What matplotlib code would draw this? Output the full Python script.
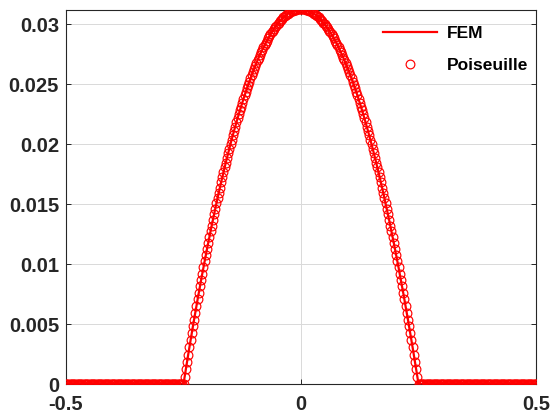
import numpy as np
import matplotlib
matplotlib.use('Agg')
import matplotlib.pyplot as plt

# ---- data (velocity profile, channel -0.5..0.5) ----
# centreline-to-wall values of the profile, in units of 1e-6, step dx = 0.0025
u_half_1e6 = [
    31250, 31247, 31238, 31222, 31200, 31172, 31138, 31097, 31050, 30997,
    30938, 30872, 30800, 30722, 30638, 30547, 30450, 30347, 30238, 30122,
    30000, 29872, 29738, 29597, 29450, 29297, 29138, 28972, 28800, 28622,
    28438, 28247, 28050, 27847, 27638, 27422, 27200, 26972, 26738, 26497,
    26250, 25997, 25738, 25472, 25200, 24922, 24638, 24347, 24050, 23747,
    23438, 23122, 22800, 22472, 22138, 21797, 21450, 21097, 20738, 20372,
    20000, 19622, 19238, 18847, 18450, 18047, 17638, 17222, 16800, 16372,
    15938, 15497, 15050, 14597, 14138, 13672, 13200, 12722, 12238, 11747,
    11250, 10747, 10238, 9722, 9200, 8672, 8138, 7597, 7050, 6497,
    5938, 5372, 4800, 4222, 3638, 3047, 2450, 1847, 1238, 622,
    0,
]
n_wall_side = 100          # points in each zero (outside) segment
wall_value = 0.0

u_half = np.array(u_half_1e6) * 1e-6
u_core = np.concatenate([u_half[::-1], u_half[1:]])
u_out = np.full(n_wall_side, wall_value)

y_poiseuille = np.concatenate([u_out, u_core, u_out])
y_fem = y_poiseuille.copy()
x = np.linspace(-0.5, 0.5, y_poiseuille.size)

xticks = [-0.5, 0, 0.5]
xtick_labels = ['-0.5', '0', '0.5']
yticks = [0, 0.005, 0.01, 0.015, 0.02, 0.025, 0.03]
ytick_labels = ['0', '0.005', '0.01', '0.015', '0.02', '0.025', '0.03']

plt.rcParams['font.family'] = ['Liberation Sans', 'DejaVu Sans']
plt.rcParams['font.weight'] = 'bold'

fig = plt.figure(figsize=(5.54, 4.20), dpi=100)
ax = fig.add_axes([66/554, 1 - 384/420, 470/554, 374/420])

ax.plot(x, y_fem, '-', color='red', lw=1.6, label='FEM', zorder=2)
ax.plot(x, y_poiseuille, 'o', mfc='none', mec='red', mew=0.85, ms=6.3,
        label='Poiseuille', zorder=3)

ax.set_xlim(-0.5, 0.5)
ax.set_ylim(0, 0.03117)
ax.set_xticks(xticks)
ax.set_xticklabels(xtick_labels)
ax.set_yticks(yticks)
ax.set_yticklabels(ytick_labels)
ax.grid(True, color='#d9d9d9', lw=0.7)
ax.set_axisbelow(True)
ax.tick_params(direction='in', length=3.5, width=0.7, top=True, right=True,
               labelsize=14.5, colors='#262626', labelcolor='#262626')
ax.tick_params(axis='x', pad=8)
ax.tick_params(axis='y', pad=5)
for sp in ax.spines.values():
    sp.set_color('#262626')
    sp.set_linewidth(0.8)

leg = ax.legend(loc='upper left', bbox_to_anchor=(0.674, 0.957), frameon=False,
                fontsize=12.5, borderpad=0, borderaxespad=0, labelspacing=0.95,
                handlelength=3.1, handletextpad=0.6)

fig.savefig('out.png', dpi=100)
